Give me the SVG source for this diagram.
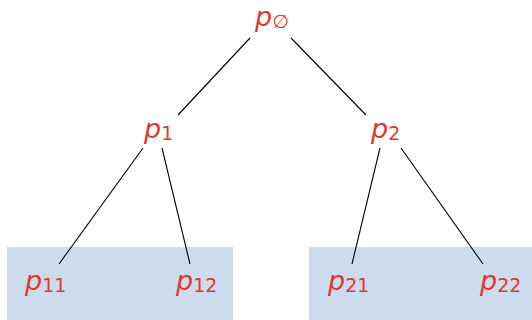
<svg xmlns="http://www.w3.org/2000/svg" width="532" height="320" viewBox="0 0 532 320">
<style>
.box{fill:#ccdcee}
.lbl{font-family:"DejaVu Sans","Liberation Sans",sans-serif;fill:#e0392b}
.p{font-style:italic;font-size:27px}
.s{font-size:19px}
.e{stroke:#000;stroke-width:1.1;fill:none}
</style>
<rect class="box" x="7" y="247" width="226" height="73"/>
<rect class="box" x="309" y="247" width="223" height="73"/>
<g id="connectors">
<line class="e" x1="250" y1="38" x2="178" y2="115"/>
<line class="e" x1="291" y1="38" x2="366" y2="115"/>
<line class="e" x1="143" y1="148" x2="59" y2="264"/>
<line class="e" x1="162" y1="148" x2="190" y2="264"/>
<line class="e" x1="380" y1="148" x2="352" y2="264"/>
<line class="e" x1="401" y1="148" x2="483" y2="264"/>
</g>
<g id="root"><text class="lbl" x="255" y="26"><tspan class="p">p</tspan><tspan class="s" dy="2">∅</tspan></text></g>
<g id="p1"><text class="lbl" x="144" y="138"><tspan class="p">p</tspan><tspan class="s" dy="2">1</tspan></text></g>
<g id="p2"><text class="lbl" x="371" y="138"><tspan class="p">p</tspan><tspan class="s" dy="2">2</tspan></text></g>
<g id="p11"><text class="lbl" x="25" y="290"><tspan class="p">p</tspan><tspan class="s" dy="2">11</tspan></text></g>
<g id="p12"><text class="lbl" x="176" y="290"><tspan class="p">p</tspan><tspan class="s" dy="2">12</tspan></text></g>
<g id="p21"><text class="lbl" x="328" y="290"><tspan class="p">p</tspan><tspan class="s" dy="2">21</tspan></text></g>
<g id="p22"><text class="lbl" x="480" y="290"><tspan class="p">p</tspan><tspan class="s" dy="2">22</tspan></text></g>
</svg>
